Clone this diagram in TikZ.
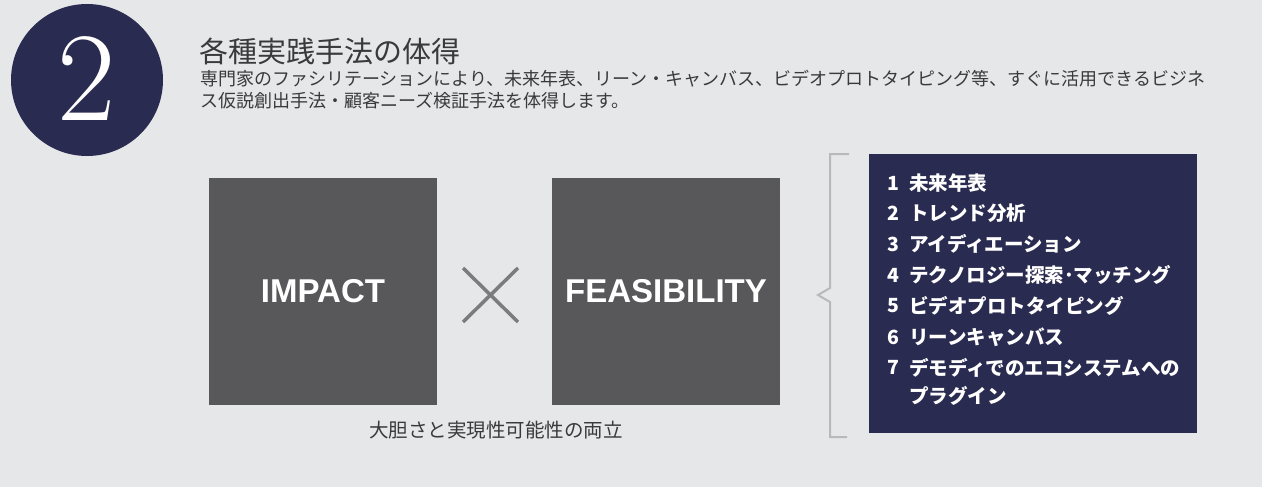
\documentclass[tikz,border=0pt]{standalone}
\usepackage{fontspec}
\setmainfont{Noto Sans CJK JP}
\newfontfamily\latsans{Liberation Sans}
\newfontfamily\lmr{Latin Modern Roman}
\definecolor{bg}{HTML}{E6E7E9}
\definecolor{navy}{HTML}{2A2B50}
\definecolor{txt}{HTML}{3A3A3A}
\definecolor{boxgray}{HTML}{58585A}
\definecolor{crossgray}{HTML}{7C7C7C}
\definecolor{brgray}{HTML}{B8B9BB}
\tikzset{
  graybox/.style={fill=boxgray, draw=none, minimum width=228pt, minimum height=227pt, inner sep=0pt,
    text=white, font=\latsans\bfseries\fontsize{33}{33}\selectfont},
  listnum/.style={anchor=west, inner sep=0pt, text=white, font=\bfseries\fontsize{19.5}{20}\selectfont},
  listtxt/.style={anchor=west, inner sep=0pt, text=white, font=\bfseries\fontsize{19.5}{20}\selectfont},
}
\begin{document}
\begin{tikzpicture}[x=1pt,y=-1pt]
\useasboundingbox (0,0) rectangle (1262,487);
\fill[bg] (0,0) rectangle (1262,487);
% numbered circle
\node[circle, fill=navy, minimum size=152pt, inner sep=0pt] (circ) at (87,80) {};
\node[text=white, inner sep=0pt, font=\lmr\fontsize{127}{127}\selectfont] (num) at (87,79) {2};
% heading
\node[anchor=base west, inner sep=0pt, text=txt, font=\fontsize{29}{29}\selectfont] (title) at (199,63) {各種実践手法の体得};
\node[anchor=base west, inner sep=0pt, text=txt, font=\fontsize{18}{18}\selectfont] (body1) at (200,86) {専門家のファシリテーションにより、未来年表、リーン・キャンバス、ビデオプロトタイピング等、すぐに活用できるビジネ};
\node[anchor=base west, inner sep=0pt, text=txt, font=\fontsize{18}{18}\selectfont] (body2) at (200,107.5) {ス仮説創出手法・顧客ニーズ検証手法を体得します。};
% boxes
\node[graybox] (impact) at (323,291.5) {IMPACT};
\node[graybox] (feas) at (666,291.5) {FEASIBILITY};
\draw[crossgray, line width=3.5pt] (463,268) -- (518,322) (463,322) -- (518,268);
\node[anchor=base, inner sep=0pt, text=txt, font=\fontsize{19.5}{20}\selectfont] (cap) at (496,437) {大胆さと実現性可能性の両立};
% bracket
\draw[brgray, line width=2pt] (849,154) -- (830,154) -- (830,288) -- (818,295) -- (830,302) -- (830,437) -- (847,437);
% list box
\fill[navy] (869,154) rectangle (1197,433);
\foreach \n/\t/\y in {1/未来年表/183, 2/トレンド分析/213.5, 3/アイディエーション/244, 4/テクノロジー探索･マッチング/275, 5/ビデオプロトタイピング/306, 6/リーンキャンバス/337, 7/デモディでのエコシステムへの/367.5}{
  \node[listnum] (n\n) at (887,\y) {\n};
  \node[listtxt] (t\n) at (909,\y) {\t};
}
\node[listtxt] (t8) at (909,396) {プラグイン};
\end{tikzpicture}
\end{document}
